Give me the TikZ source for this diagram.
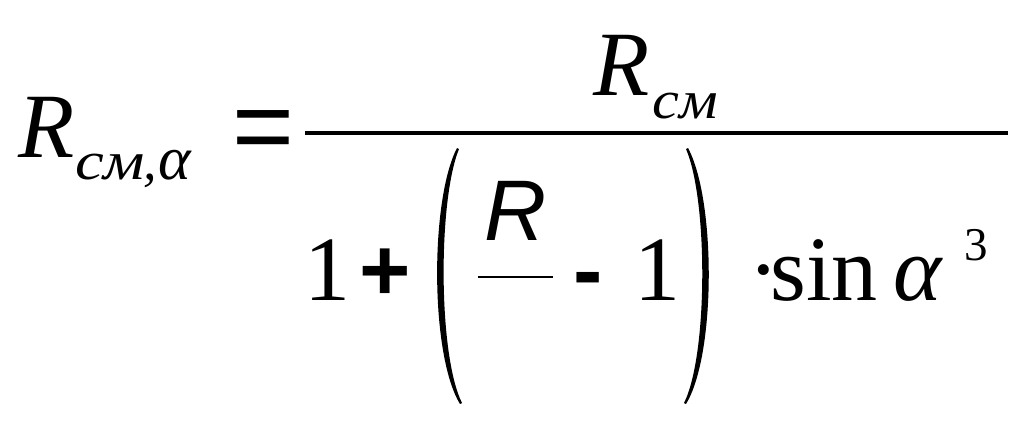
\documentclass[tikz,border=0pt]{standalone}
\usepackage{fontspec}
\setmainfont{Liberation Serif}
\newfontfamily\sansfont{Liberation Sans}
\usetikzlibrary{positioning}

\begin{document}
\begin{tikzpicture}[
    x=1pt, y=-1pt,
    big/.style={inner sep=0pt, anchor=base west, font=\fontsize{92}{100}\selectfont},
    bigit/.style={big, font=\fontsize{92}{100}\selectfont\itshape},
    sub/.style={inner sep=0pt, anchor=base west, font=\fontsize{54}{60}\selectfont\itshape},
    sup/.style={inner sep=0pt, anchor=base west, font=\fontsize{47}{52}\selectfont},
    sansop/.style={inner sep=0pt, anchor=base west, font=\fontsize{88}{96}\selectfont\sansfont\bfseries},
    sanseq/.style={inner sep=0pt, anchor=base west, font=\fontsize{106}{116}\selectfont\sansfont},
    sansit/.style={inner sep=0pt, anchor=base west, font=\fontsize{86}{92}\selectfont\sansfont\itshape},
    fracline/.style={line width=4pt},
    thinline/.style={line width=1.2pt}
]
\useasboundingbox (0,0) rectangle (1024,426);

% Left side
\node [bigit] (lhsR) at (18,157) {R};
\node [sub] (lhssub) at (75,179) {\scalebox{1.2}[1]{см}};
\node [sub] (lhscomma) at (143,179) {,};
\node [sub, font=\fontsize{62}{66}\selectfont\itshape] (lhsalpha) at (158,179) {α};
\node [sanseq] (eq) at (232,162) {=};

% Main fraction
\coordinate (fracL) at (305,133);
\coordinate (fracR) at (1008,133);
\draw [fracline] (fracL) -- (fracR);
\node [bigit] (numR) at (593,95) {R};
\node [sub] (numsub) at (652,118) {\scalebox{1.12}[1]{см}};

% Denominator
\node [big] (one) at (304,300) {1};
\node [sansop] (plus) at (359,300) {+};
\fill (457,148) .. controls (430,200) and (430,355) .. (460,404)
      -- (462,403) .. controls (438,355) and (438,200) .. (459,149) -- cycle;
\node [sansit] (innerR) at (484,240) {R};
\coordinate (innerL) at (478,277);
\coordinate (innerE) at (553,277);
\draw [thinline] (innerL) -- (innerE);
\node [sansop] (minus) at (573,300) {-};
\node [big] (onein) at (634,300) {1};
\fill (688,148) .. controls (716,200) and (716,355) .. (686,404)
      -- (684,403) .. controls (708,355) and (708,200) .. (686,149) -- cycle;
\node [big] (dot) at (748,300) {·};
\node [big] (sin) at (770,300) {sin};
\node [bigit] (alpha) at (893,300) {α};
\node [sup] (three) at (964,260) {3};

\end{tikzpicture}
\end{document}
